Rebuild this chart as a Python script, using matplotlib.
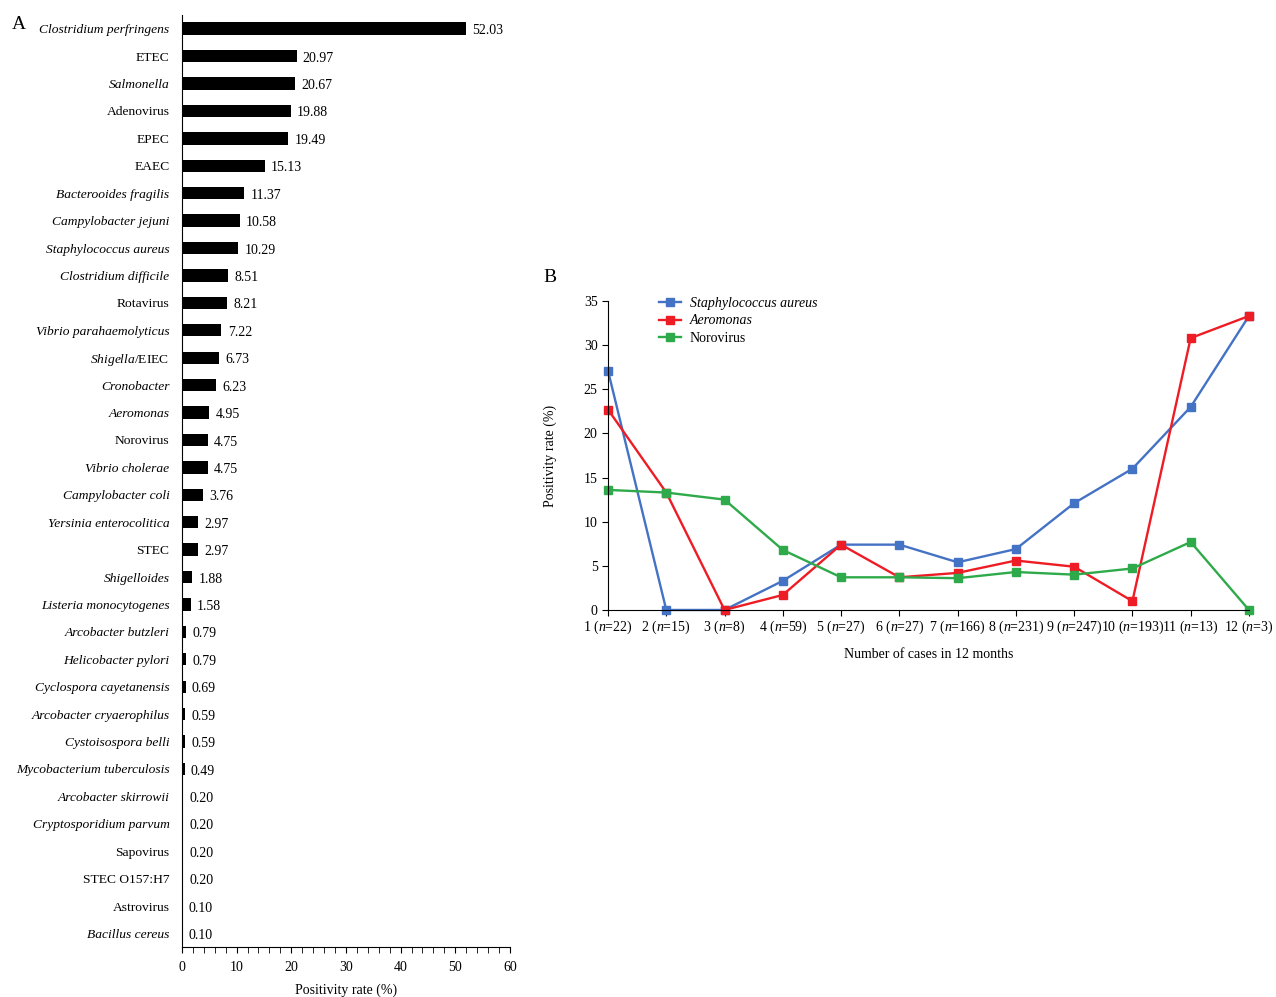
import numpy as np
import matplotlib.pyplot as plt

plt.rcParams['font.family'] = ['Liberation Serif', 'DejaVu Serif']
plt.rcParams['mathtext.fontset'] = 'custom'
plt.rcParams['mathtext.rm'] = 'Liberation Serif'
plt.rcParams['mathtext.it'] = 'Liberation Serif:italic'

# panel A data
pathogens = ["Clostridium perfringens", "ETEC", "Salmonella", "Adenovirus", "EPEC", "EAEC",
             "Bacterooides fragilis", "Campylobacter jejuni", "Staphylococcus aureus",
             "Clostridium difficile", "Rotavirus", "Vibrio parahaemolyticus", "$\\mathit{Shigella}$/EIEC",
             "Cronobacter", "Aeromonas", "Norovirus", "Vibrio cholerae", "Campylobacter coli",
             "Yersinia enterocolitica", "STEC", "Shigelloides", "Listeria monocytogenes",
             "Arcobacter butzleri", "Helicobacter pylori", "Cyclospora cayetanensis",
             "Arcobacter cryaerophilus", "Cystoisospora belli", "Mycobacterium tuberculosis",
             "Arcobacter skirrowii", "Cryptosporidium parvum", "Sapovirus", "STEC O157:H7",
             "Astrovirus", "Bacillus cereus"]
italic = [1, 0, 1, 0, 0, 0, 1, 1, 1, 1, 0, 1, 0, 1, 1, 0, 1, 1, 1, 0, 1, 1, 1, 1, 1, 1, 1, 1,
          1, 1, 0, 0, 0, 1]
rates = [52.03, 20.97, 20.67, 19.88, 19.49, 15.13, 11.37, 10.58, 10.29, 8.51, 8.21, 7.22,
         6.73, 6.23, 4.95, 4.75, 4.75, 3.76, 2.97, 2.97, 1.88, 1.58, 0.79, 0.79, 0.69, 0.59,
         0.59, 0.49, 0.20, 0.20, 0.20, 0.20, 0.10, 0.10]

# panel B data
months = ["1 ($\\mathit{n}$=22)", "2 ($\\mathit{n}$=15)", "3 ($\\mathit{n}$=8)", "4 ($\\mathit{n}$=59)",
          "5 ($\\mathit{n}$=27)", "6 ($\\mathit{n}$=27)", "7 ($\\mathit{n}$=166)", "8 ($\\mathit{n}$=231)",
          "9 ($\\mathit{n}$=247)", "10 ($\\mathit{n}$=193)", "11 ($\\mathit{n}$=13)", "12 ($\\mathit{n}$=3)"]
staph = [27.1, 0, 0, 3.3, 7.4, 7.4, 5.4, 6.9, 12.1, 16.0, 23.0, 33.3]
aero = [22.7, 13.3, 0, 1.7, 7.4, 3.7, 4.2, 5.6, 4.9, 1.0, 30.8, 33.3]
noro = [13.6, 13.3, 12.5, 6.8, 3.7, 3.7, 3.6, 4.3, 4.0, 4.7, 7.7, 0]

fig = plt.figure(figsize=(12.76, 9.97), dpi=100)

# ---- A ----
axA = fig.add_axes([0.1426, 0.050, 0.257, 0.935])
y = np.arange(len(pathogens))
axA.barh(y, rates, height=0.45, color='black')
axA.set_ylim(len(pathogens) - 0.5, -0.5)
axA.set_xlim(0, 60)
axA.set_yticks(y)
axA.set_yticklabels(pathogens, fontsize=9.7)
for lab, it in zip(axA.get_yticklabels(), italic):
    if it:
        lab.set_fontstyle('italic')
axA.tick_params(axis='y', length=0, pad=9)
axA.set_xticks(np.arange(0, 61, 10))
axA.set_xticks(np.arange(0, 61, 2), minor=True)
axA.tick_params(axis='x', labelsize=10, length=4, direction='out', pad=6)
axA.tick_params(axis='x', which='minor', length=4)
for s in ['top', 'right']:
    axA.spines[s].set_visible(False)
for i, v in enumerate(rates):
    axA.annotate("%.2f" % v, (v, i), xytext=(4.5, -1.5), textcoords='offset points',
                 va='center', ha='left', fontsize=10)
axA.set_xlabel("Positivity rate (%)", fontsize=10, labelpad=7)
fig.text(0.009, 0.975, "A", fontsize=14, va='center')

# ---- B ----
axB = fig.add_axes([0.4765, 0.3882, 0.5023, 0.3099])
x = np.arange(1, 13)
axB.plot(x, staph, color='#4472C4', marker='s', markersize=5.5, lw=1.7, label='Staphylococcus aureus')
axB.plot(x, aero, color='#EE1C25', marker='s', markersize=5.5, lw=1.7, label='Aeromonas')
axB.plot(x, noro, color='#2EAA4A', marker='s', markersize=5.5, lw=1.7, label='Norovirus')
axB.set_xlim(1, 12)
axB.set_ylim(0, 35)
axB.set_xticks(x)
axB.set_xticklabels(months, fontsize=10)
axB.set_yticks(np.arange(0, 36, 5))
axB.tick_params(axis='both', labelsize=10, length=4, direction='out')
axB.tick_params(axis='x', pad=2)
for s in ['top', 'right']:
    axB.spines[s].set_visible(False)
axB.set_ylabel("Positivity rate (%)", fontsize=10, labelpad=19)
axB.set_xlabel("Number of cases in 12 months", fontsize=10, labelpad=9)
leg = axB.legend(loc='upper left', bbox_to_anchor=(0.06, 1.055), frameon=False, fontsize=10,
                 handlelength=1.6, handletextpad=0.6, labelspacing=0.35)
for t in leg.get_texts()[:2]:
    t.set_fontstyle('italic')
for ln in axB.lines:
    ln.set_clip_on(False)
fig.text(0.426, 0.722, "B", fontsize=14, va='center')

fig.savefig("out.png", dpi=100)
